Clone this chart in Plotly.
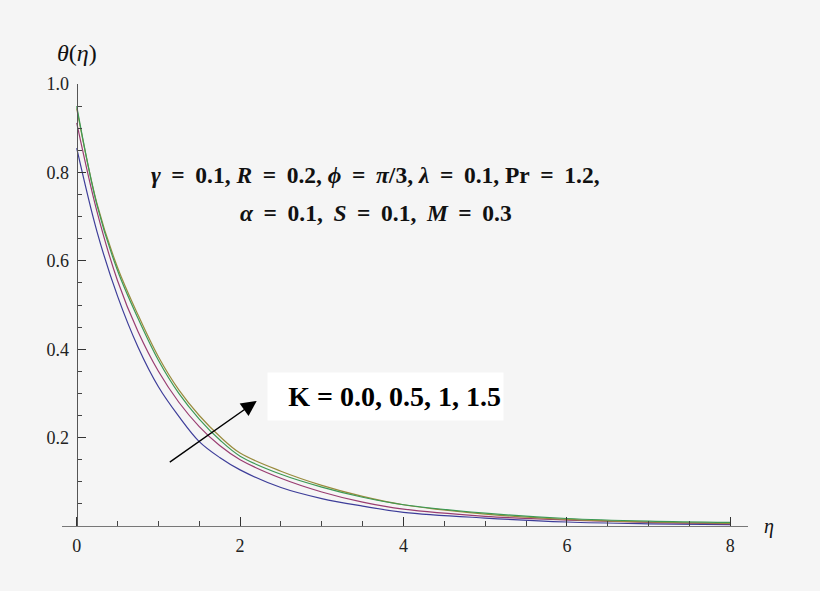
import plotly.graph_objects as go

# eta values
eta = [0, 0.25, 0.5, 0.75, 1, 1.25, 1.5, 1.75, 2, 2.5, 3, 3.5, 4, 5, 6, 7, 8]

# theta(eta) for K = 0.0, 0.5, 1, 1.5
theta_k00 = [0.855, 0.665, 0.52, 0.405, 0.315, 0.248, 0.191, 0.155, 0.127,
             0.087, 0.062, 0.045, 0.031, 0.018, 0.009, 0.005, 0.003]
theta_k05 = [0.912, 0.71, 0.555, 0.44, 0.35, 0.28, 0.225, 0.182, 0.150,
             0.108, 0.077, 0.054, 0.038, 0.022, 0.0135, 0.008, 0.005]
theta_k10 = [0.945, 0.728, 0.585, 0.478, 0.383, 0.308, 0.25, 0.203, 0.165,
             0.124, 0.092, 0.067, 0.048, 0.027, 0.015, 0.009, 0.006]
theta_k15 = [0.95, 0.725, 0.578, 0.47, 0.375, 0.30, 0.242, 0.195, 0.158,
             0.117, 0.088, 0.065, 0.048, 0.029, 0.017, 0.011, 0.008]

series = [theta_k00, theta_k05, theta_k10, theta_k15]
colors = ["#3D3D99", "#993D71", "#998B3D", "#3D9954"]

x_ticks = [0, 2, 4, 6, 8]
y_ticks = [0.2, 0.4, 0.6, 0.8, 1.0]
y_ticklabels = ["0.2", "0.4", "0.6", "0.8", "1.0"]

serif = "Liberation Serif"
bg = "#f5f5f5"
ts = "\u2009"  # thin space, mimics the wider Mathematica spacing

fig = go.Figure()
for vals, c in zip(series, colors):
    fig.add_trace(go.Scatter(x=eta, y=vals, mode="lines",
                             line=dict(color=c, width=1.2, shape="spline", smoothing=1),
                             showlegend=False, hoverinfo="skip"))

x0, x1 = -0.18, 8.217
ypos = (0 - x0) / (x1 - x0)

fig.update_layout(
    width=820, height=591,
    paper_bgcolor=bg, plot_bgcolor=bg,
    margin=dict(l=62, r=72, t=84, b=65),
    font=dict(family=serif, size=18, color="#222"),
    xaxis=dict(range=[x0, x1], tickmode="array", tickvals=x_ticks,
               ticks="inside", ticklen=9, tickwidth=1, tickcolor="#333",
               showline=True, linecolor="#777", linewidth=1.2,
               showgrid=False, zeroline=False, anchor="y",
               ticklabelstandoff=3,
               minor=dict(tickmode="linear", tick0=0, dtick=0.5, ticks="inside",
                          ticklen=5, tickcolor="#444", showgrid=False),
               tickfont=dict(family=serif, size=18, color="#222")),
    yaxis=dict(range=[0, 1], tickmode="array", tickvals=y_ticks, ticktext=y_ticklabels,
               ticks="inside", ticklen=8, tickwidth=1, tickcolor="#333",
               showline=True, linecolor="#555", linewidth=1.2,
               showgrid=False, zeroline=False, anchor="free", position=ypos,
               ticklabelstandoff=4,
               minor=dict(tickmode="linear", tick0=0, dtick=0.05, ticks="inside",
                          ticklen=4, tickcolor="#444", showgrid=False),
               tickfont=dict(family=serif, size=18, color="#222")),
)

# axis labels
fig.add_annotation(text="<i>θ</i>(<i>η</i>)", xref="paper", yref="paper",
                   x=ypos, y=1, xanchor="center", yanchor="middle", yshift=31,
                   showarrow=False, font=dict(family=serif, size=24, color="#111"))
fig.add_annotation(text="<i>η</i>", xref="paper", yref="y", x=1, y=0,
                   xanchor="left", yanchor="middle", xshift=14, showarrow=False,
                   font=dict(family=serif, size=20, color="#111"))

# parameter text, two lines
line1 = (f"<b><i>γ</i>{ts} ={ts} 0.1, <i>R</i>{ts} ={ts} 0.2, <i>ϕ</i>{ts} ={ts} <i>π</i>/3, "
         f"<i>λ</i>{ts} ={ts} 0.1, Pr{ts} ={ts} 1.2,</b>")
line2 = (f"<b><i>α</i>{ts} ={ts} 0.1,{ts} <i>S</i>{ts} ={ts} 0.1,{ts} "
         f"<i>M</i>{ts} ={ts} 0.3</b>")
fig.add_annotation(text=line1, x=3.66, y=0.795, xref="x", yref="y", showarrow=False,
                   xanchor="center", yanchor="middle",
                   font=dict(family=serif, size=23.5, color="#111"))
fig.add_annotation(text=line2, x=3.66, y=0.709, xref="x", yref="y", showarrow=False,
                   xanchor="center", yanchor="middle",
                   font=dict(family=serif, size=23.5, color="#111"))

# K label with white box
fig.add_annotation(text="<b>K = 0.0, 0.5, 1, 1.5</b>", x=3.78, y=0.292, xref="x", yref="y",
                   xanchor="center", yanchor="middle",
                   showarrow=False, bgcolor="white", borderpad=2, width=231, height=43,
                   align="right", valign="middle",
                   font=dict(family=serif, size=28, color="#000"))

# arrow showing increasing K
fig.add_annotation(x=2.203, y=0.283, ax=1.121, ay=0.142, xref="x", yref="y",
                   axref="x", ayref="y", text="", showarrow=True,
                   arrowhead=2, arrowsize=2.2, arrowwidth=1.4, arrowcolor="#000")

fig.write_html("out.html", config={"displayModeBar": False},
               post_script="document.body.style.margin='0';document.body.style.background='#f5f5f5';")
